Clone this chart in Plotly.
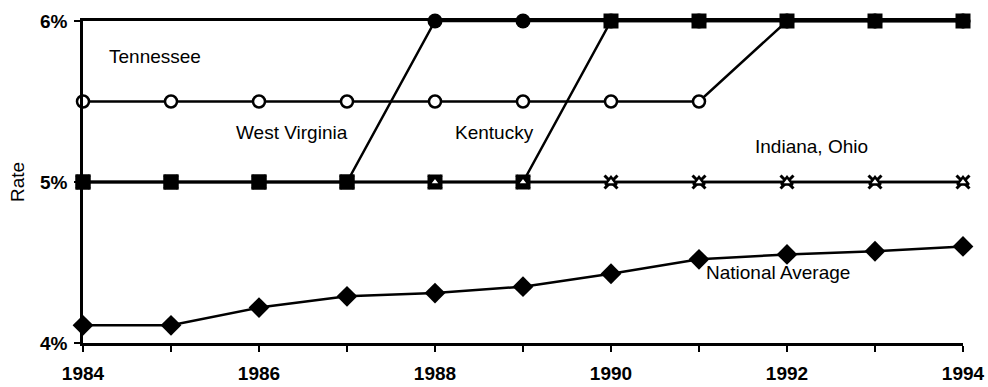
import plotly.graph_objects as go

years = list(range(1984, 1995))
tennessee = [5.5, 5.5, 5.5, 5.5, 5.5, 5.5, 5.5, 5.5, 6.0, 6.0, 6.0]
west_virginia = [5.0, 5.0, 5.0, 5.0, 6.0, 6.0, 6.0, 6.0, 6.0, 6.0, 6.0]
kentucky = [5.0, 5.0, 5.0, 5.0, 5.0, 5.0, 6.0, 6.0, 6.0, 6.0, 6.0]
indiana = [5.0] * 11
ohio = [5.0] * 11
national_avg = [4.11, 4.11, 4.22, 4.29, 4.31, 4.35, 4.43, 4.52, 4.55, 4.57, 4.60]

labels = ["Tennessee", "West Virginia", "Kentucky", "Indiana, Ohio", "National Average"]
label_x = [1984.82, 1986.38, 1988.68, 1992.28, 1991.9]
label_y = [5.78, 5.31, 5.31, 5.22, 4.44]

wv_symbols = ["square" if v == 5.0 else "circle" for v in west_virginia]

LW = 2.5
fig = go.Figure()

def add(y, symbol, size, fill="black", line_w=0, name=""):
    fig.add_trace(go.Scatter(
        x=years, y=y, mode="lines+markers", name=name,
        line=dict(color="black", width=LW),
        marker=dict(symbol=symbol, size=size, color=fill,
                    line=dict(color="black", width=line_w)),
        cliponaxis=False, showlegend=False))

add(ohio, "x-thin-open", 13, line_w=3, name="Ohio")
add(tennessee, "circle", 12, fill="white", line_w=2.5, name="Tennessee")
add(kentucky, "square", 15, name="Kentucky")
add(indiana, "triangle-up", 10, fill="white", line_w=2.5, name="Indiana")
add(west_virginia, wv_symbols, 15, name="West Virginia")
add(national_avg, "diamond", 16, name="National Average")

for t, x, y in zip(labels, label_x, label_y):
    fig.add_annotation(x=x, y=y, text=t, showarrow=False,
                       font=dict(family="Liberation Sans", size=19, color="black"))

fig.update_layout(
    width=988, height=387,
    margin=dict(l=83, r=25, t=21, b=44),
    paper_bgcolor="white", plot_bgcolor="white",
    font=dict(family="Liberation Sans", color="black"),
    xaxis=dict(range=[1984, 1994], tickvals=years, automargin=False,
               ticktext=[str(y) if y % 2 == 0 else "" for y in years],
               showgrid=False, zeroline=False, showline=True, linecolor="black",
               linewidth=2.5, mirror=True, ticks="outside", ticklen=6, tickwidth=2,
               tickcolor="black", ticklabelstandoff=5,
               tickfont=dict(size=19, family="Liberation Sans", weight="bold")),
    yaxis=dict(range=[4, 6], tickvals=[4, 5, 6], ticktext=["4%", "5%", "6%"],
               automargin=False,
               showgrid=False, zeroline=False, showline=True, linecolor="black",
               linewidth=2.5, ticks="outside", ticklen=6, tickwidth=2, tickcolor="black",
               ticklabelstandoff=3,
               tickfont=dict(size=19, family="Liberation Sans", weight="bold"),
               title=dict(text="Rate", standoff=11,
                          font=dict(size=19, family="Liberation Sans"))),
)

fig.write_html("out.html", config={"displayModeBar": False},
               post_script="document.body.style.margin='0';document.body.style.overflow='hidden';")
